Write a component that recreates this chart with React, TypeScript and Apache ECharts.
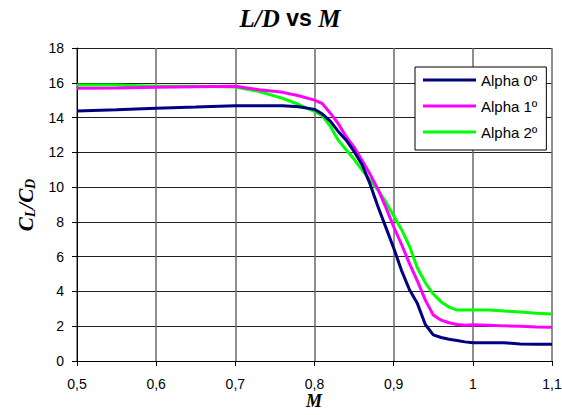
import React, { useEffect, useRef } from "react";
import * as echarts from "echarts";

const mach = [0.5, 0.55, 0.6, 0.65, 0.7, 0.73, 0.76, 0.78, 0.8, 0.81, 0.82, 0.83, 0.84, 0.85, 0.86, 0.87, 0.88, 0.89, 0.9, 0.91, 0.92, 0.93, 0.94, 0.95, 0.96, 0.97, 0.98, 0.99, 1.0, 1.02, 1.04, 1.06, 1.08, 1.1];
const alpha0 = [14.38, 14.45, 14.53, 14.6, 14.68, 14.68, 14.68, 14.62, 14.47, 14.2, 13.8, 13.2, 12.7, 12.05, 11.3, 10.2, 8.9, 7.7, 6.5, 5.2, 4.1, 3.3, 2.1, 1.5, 1.35, 1.25, 1.18, 1.1, 1.05, 1.05, 1.05, 0.98, 0.97, 0.97];
const alpha1 = [15.68, 15.7, 15.74, 15.77, 15.8, 15.6, 15.45, 15.25, 15.0, 14.8, 14.25, 13.65, 12.9, 12.3, 11.55, 10.75, 9.9, 8.85, 7.72, 6.7, 5.6, 4.6, 3.5, 2.65, 2.35, 2.2, 2.1, 2.05, 2.08, 2.05, 2.02, 2.0, 1.96, 1.94];
const alpha2 = [15.87, 15.87, 15.8, 15.8, 15.75, 15.5, 15.1, 14.75, 14.35, 14.1, 13.5, 12.7, 12.15, 11.6, 11.0, 10.4, 9.85, 9.15, 8.35, 7.55, 6.6, 5.35, 4.5, 3.85, 3.4, 3.1, 2.93, 2.93, 2.93, 2.93, 2.87, 2.82, 2.75, 2.7];
const seriesNames = ["Alpha 0º", "Alpha 1º", "Alpha 2º"];
const seriesColors = ["#000080", "#FF00FF", "#00FF00"];

export default function App() {
  const ref = useRef<HTMLDivElement>(null);
  useEffect(() => {
    if (!ref.current) return;
    const chart = echarts.init(ref.current, null, { renderer: "svg" });
    const all = [alpha0, alpha1, alpha2];
    const sansFont = "'Liberation Sans', Arial, sans-serif";
    const serifFont = "'Liberation Serif', 'Times New Roman', serif";
    chart.setOption({
      animation: false,
      backgroundColor: "#fff",
      grid: { left: 77, right: 10, top: 48, bottom: 54, outerBoundsMode: "none" },
      xAxis: {
        type: "value",
        min: 0.5,
        max: 1.1,
        interval: 0.1,
        axisLine: { show: true, lineStyle: { color: "#000", width: 1 } },
        axisTick: { show: true, inside: false, length: 5, lineStyle: { color: "#000" } },
        axisLabel: {
          color: "#000",
          fontFamily: sansFont,
          fontSize: 14,
          margin: 16,
          showMaxLabel: true,
          formatter: (v: number) => String(Math.round(v * 10) / 10).replace(".", ","),
        },
        splitLine: { show: true, lineStyle: { color: "#6a6a6a", width: 1.5 } },
      },
      yAxis: {
        type: "value",
        min: 0,
        max: 18,
        interval: 2,
        axisLine: { show: true, lineStyle: { color: "#000", width: 1 } },
        axisTick: { show: true, inside: false, length: 5, lineStyle: { color: "#000" } },
        axisLabel: { color: "#000", fontFamily: sansFont, fontSize: 14, margin: 13 },
        splitLine: { show: true, lineStyle: { color: "#222", width: 1 } },
      },
      legend: {
        orient: "vertical",
        left: 415,
        top: 67,
        width: 132,
        backgroundColor: "#fff",
        borderColor: "#000",
        borderWidth: 1,
        padding: [5, 9, 10, 8],
        itemGap: 10,
        itemWidth: 53,
        itemHeight: 3,
        icon: "rect",
        textStyle: { color: "#000", fontFamily: sansFont, fontSize: 15, lineHeight: 16 },
        data: seriesNames,
      },
      graphic: [
        {
          type: "text",
          x: 290,
          y: 18,
          style: {
            text: "{i|L/D}{b| vs }{i|M}",
            align: "center",
            verticalAlign: "middle",
            rich: {
              i: { fontFamily: serifFont, fontStyle: "italic", fontWeight: "bold", fontSize: 25, fill: "#000" },
              b: { fontFamily: sansFont, fontWeight: "bold", fontSize: 23, fill: "#000" },
            },
          },
        },
        {
          type: "text",
          x: 314,
          y: 401,
          style: {
            text: "M",
            align: "center",
            verticalAlign: "middle",
            fontFamily: serifFont,
            fontStyle: "italic",
            fontWeight: "bold",
            fontSize: 18,
            fill: "#000",
          },
        },
        {
          type: "text",
          x: 26,
          y: 205,
          rotation: Math.PI / 2,
          style: {
            text: "{c|C}{s|L}{c|/C}{s|D}",
            align: "center",
            verticalAlign: "middle",
            rich: {
              c: { fontFamily: serifFont, fontStyle: "italic", fontWeight: "bold", fontSize: 21, lineHeight: 22, fill: "#000" },
              s: { fontFamily: serifFont, fontStyle: "italic", fontWeight: "bold", fontSize: 14, lineHeight: 11, verticalAlign: "bottom", fill: "#000" },
            },
          },
        },
      ],
      series: all.map((vals, i) => ({
        name: seriesNames[i],
        type: "line",
        data: mach.map((m, k) => [m, vals[k]]),
        showSymbol: false,
        symbol: "none",
        smooth: false,
        lineStyle: { color: seriesColors[i], width: 3 },
        itemStyle: { color: seriesColors[i] },
        z: 3 - i,
      })),
    });
    return () => chart.dispose();
  }, []);
  return (
    <div
      ref={ref}
      style={{ position: "absolute", left: 0, top: 0, width: 562, height: 415 }}
    />
  );
}
